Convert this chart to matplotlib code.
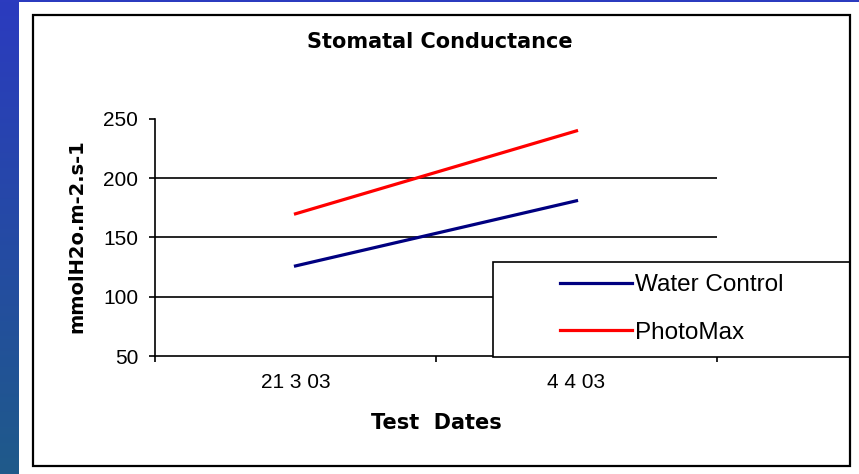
import numpy as np
import matplotlib
matplotlib.use("Agg")
import matplotlib.pyplot as plt
from matplotlib.patches import Rectangle

# data
dates = ["21 3 03", "4 4 03"]
water_control = [126, 181]
photomax = [170, 240]
y_ticks = [50, 100, 150, 200, 250]

W, H = 859, 474

def fx(px):
    return px / W

def fy(py):
    # pixel row from top -> figure fraction
    return 1 - py / H

fig = plt.figure(figsize=(W / 100, H / 100), dpi=100)
fig.patch.set_facecolor("white")

# blue strip on the left with a soft gradient
strip = fig.add_axes([0, 0, fx(19), 1])
grad = np.linspace(0, 1, 256).reshape(-1, 1)
top_col = np.array([0x2b, 0x3b, 0xbf]) / 255
bot_col = np.array([0x1f, 0x5a, 0x8a]) / 255
img = top_col + grad[:, :, None] * (bot_col - top_col)
strip.imshow(img, aspect="auto", extent=[0, 1, 0, 1])
strip.axis("off")
# thin blue strip on top
fig.patches.append(Rectangle((0, fy(2)), 1, fy(0) - fy(2), transform=fig.transFigure,
                             facecolor="#2b3bbf", edgecolor="none", zorder=0))

# chart border
fig.patches.append(Rectangle((fx(33), fy(466)), fx(850) - fx(33), fy(15) - fy(466),
                             transform=fig.transFigure, facecolor="none",
                             edgecolor="black", linewidth=1.6, zorder=5))

# plot area
ax = fig.add_axes([fx(155), fy(356), fx(717) - fx(155), fy(119) - fy(356)])
x = np.arange(len(dates))
ax.plot(x, water_control, color="#000080", linewidth=2.3, label="Water Control", zorder=3)
ax.plot(x, photomax, color="#ff0000", linewidth=2.3, label="PhotoMax", zorder=3)

ax.set_xlim(-0.5, len(dates) - 0.5)
ax.set_ylim(50, 250)
ax.set_yticks(y_ticks)
for v in y_ticks[1:-1]:
    ax.axhline(v, color="black", linewidth=1.2, zorder=1)

ax.spines["top"].set_visible(False)
ax.spines["right"].set_visible(False)
ax.spines["left"].set_linewidth(1.2)
ax.spines["bottom"].set_linewidth(1.2)

ax.set_xticks(x)
ax.set_xticklabels(dates, fontfamily="Liberation Sans", fontsize=15)
ax.set_xticks(np.arange(len(dates) + 1) - 0.5, minor=True)
ax.tick_params(axis="x", which="major", length=0, pad=12)
ax.tick_params(axis="x", which="minor", length=4, width=1.2, direction="out")
ax.tick_params(axis="y", length=4, width=1.2, direction="out", pad=8)
for lab in ax.get_yticklabels():
    lab.set_fontfamily("Liberation Sans")
    lab.set_fontsize(15)

# titles
fig.text(fx(440), fy(42), "Stomatal Conductance", ha="center", va="center",
         fontsize=15, fontweight="bold", family="DejaVu Sans")
fig.text(fx(436), fy(423), "Test  Dates", ha="center", va="center",
         fontsize=15, fontweight="bold", family="DejaVu Sans")
fig.text(fx(77), fy(236), "mmolH2o.m-2.s-1", ha="center", va="center", rotation=90,
         fontsize=14, fontweight="bold", family="DejaVu Sans")

# legend box
fig.patches.append(Rectangle((fx(493), fy(357)), fx(850) - fx(493), fy(262) - fy(357),
                             transform=fig.transFigure, facecolor="white",
                             edgecolor="black", linewidth=1.2, zorder=4))
handles, labels = ax.get_legend_handles_labels()
leg = fig.legend(handles, labels, loc="upper left", bbox_to_anchor=(fx(560), fy(274)),
                 bbox_transform=fig.transFigure, frameon=False,
                 prop={"family": "Liberation Sans", "size": 17.5},
                 handlelength=2.95, handletextpad=0.12, labelspacing=1.05,
                 borderaxespad=0, borderpad=0)
leg.set_zorder(6)

fig.savefig("out.png", dpi=100)
